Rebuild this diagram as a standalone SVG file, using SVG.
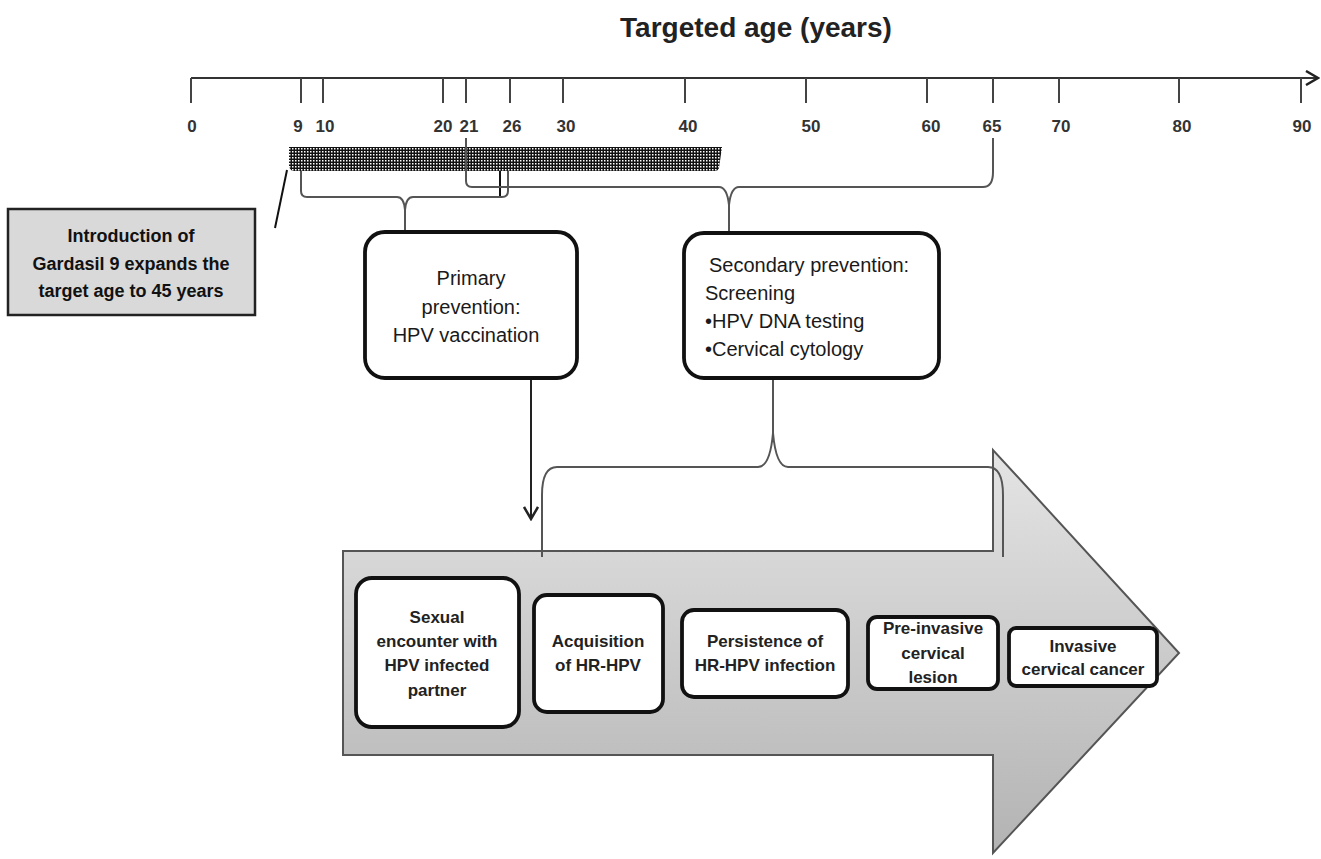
<svg xmlns="http://www.w3.org/2000/svg" width="1321" height="859" viewBox="0 0 1321 859">
<defs>
<style>
.axis{stroke:#333;stroke-width:2;fill:none}
.tick{stroke:#444;stroke-width:2}
.lbl{font-family:"Liberation Sans",Arial,sans-serif;font-size:17px;font-weight:bold;fill:#333;text-anchor:middle}
.brace{stroke:#555;stroke-width:2;fill:none}
.box{fill:#fff;stroke:#111;stroke-width:3.8}
.t20{font-family:"Liberation Sans",Arial,sans-serif;font-size:20px;fill:#1a1a1a}
.tb{font-family:"Liberation Sans",Arial,sans-serif;font-size:17px;font-weight:bold;fill:#222;text-anchor:middle}
.tg{font-family:"Liberation Sans",Arial,sans-serif;font-size:18px;font-weight:bold;fill:#111;text-anchor:middle}
.mid{text-anchor:middle}
</style>
<pattern id="dots" x="0" y="0" width="3" height="3" patternUnits="userSpaceOnUse"><rect width="3" height="3" fill="#111"/><rect x="1" y="1" width="1.5" height="1.5" fill="#fff"/></pattern>
<linearGradient id="ag" x1="0" y1="450" x2="0" y2="853" gradientUnits="userSpaceOnUse"><stop offset="0" stop-color="#e4e4e4"/><stop offset="1" stop-color="#b3b3b3"/></linearGradient>
<marker id="chev" viewBox="0 0 16 16" refX="14" refY="8" markerWidth="16" markerHeight="16" markerUnits="userSpaceOnUse" orient="auto"><path d="M2,1 L14,8 L2,15" fill="none" stroke="#222" stroke-width="2.5"/></marker>
</defs>
<rect width="1321" height="859" fill="#fff"/>

<g id="title"><text x="756" y="37" font-family="Liberation Sans,Arial,sans-serif" font-size="28" font-weight="bold" fill="#222" text-anchor="middle">Targeted age (years)</text></g>

<g id="axis">
<path class="axis" d="M191,78 H1318" marker-end="url(#chev)"/>
<path class="tick" d="M191,78V103 M301,78V103 M323,78V103 M443,78V103 M466,78V103 M510,78V103 M563,78V103 M685,78V103 M806,78V103 M927,78V103 M993,78V103 M1059,78V103 M1179,78V103 M1301,78V103"/>
<text class="lbl" x="192" y="132">0</text>
<text class="lbl" x="298" y="132">9</text>
<text class="lbl" x="325" y="132">10</text>
<text class="lbl" x="443" y="132">20</text>
<text class="lbl" x="469" y="132">21</text>
<text class="lbl" x="512" y="132">26</text>
<text class="lbl" x="566" y="132">30</text>
<text class="lbl" x="688" y="132">40</text>
<text class="lbl" x="811" y="132">50</text>
<text class="lbl" x="931" y="132">60</text>
<text class="lbl" x="992" y="132">65</text>
<text class="lbl" x="1061" y="132">70</text>
<text class="lbl" x="1182" y="132">80</text>
<text class="lbl" x="1302" y="132">90</text>
</g>

<g id="gardasil-bar"><path d="M289,147 H722 L719,168 Q718,171 715,171 H294 Q290,171 289,166 Z" fill="url(#dots)"/></g>

<g id="gardasil-note">
<rect x="8" y="209" width="247" height="106" fill="#d9d9d9" stroke="#222" stroke-width="2.5"/>
<text class="tg" x="131" y="242">Introduction of</text>
<text class="tg" x="131" y="270">Gardasil 9 expands the</text>
<text class="tg" x="131" y="297">target age to 45 years</text>
</g>

<g id="big-arrow"><path d="M343,551 H993 V450 L1179,653 L993,853 V755 H343 Z" fill="url(#ag)" stroke="#555" stroke-width="2"/></g>

<g id="connectors">
<path d="M287,170 L275,228" stroke="#111" stroke-width="2"/>
<path d="M500,171 V196" stroke="#111" stroke-width="2"/>
<path class="brace" d="M301,171 V191 Q301,197 307,197 H397 Q404,197 405,210 Q406,197 413,197 H502 Q508,197 508,191 V171 M405,208 V232"/>
<path class="brace" d="M466,138 V181 Q466,187 472,187 H719 Q727,187 729,205 Q731,187 739,187 H983 Q993,187 993,172 V138 M729,203 V233"/>
<path class="brace" d="M542,557 V495 Q542,467 557,467 H758 Q770,467 773,433 Q776,467 788,467 H988 Q1003,467 1003,495 V557 M773,378 V435"/>
<path d="M531,378 V519" stroke="#222" stroke-width="2" marker-end="url(#chev)"/>
</g>

<g id="primary">
<rect class="box" x="365" y="232" width="212" height="146" rx="20"/>
<text class="t20 mid" x="471" y="285">Primary</text>
<text class="t20 mid" x="471" y="314">prevention:</text>
<text class="t20 mid" x="466" y="342">HPV vaccination</text>
</g>

<g id="secondary">
<rect class="box" x="684" y="233" width="255" height="145" rx="20"/>
<text class="t20" x="709" y="272">Secondary prevention:</text>
<text class="t20" x="705" y="300">Screening</text>
<text class="t20" x="705" y="328">•HPV DNA testing</text>
<text class="t20" x="705" y="356">•Cervical cytology</text>
</g>

<g id="sexual">
<rect class="box" x="356" y="578" width="163" height="149" rx="16"/>
<text class="tb" x="437" y="623">Sexual</text>
<text class="tb" x="437" y="647">encounter with</text>
<text class="tb" x="437" y="671">HPV infected</text>
<text class="tb" x="437" y="696">partner</text>
</g>

<g id="acquisition">
<rect class="box" x="534" y="595" width="129" height="117" rx="13"/>
<text class="tb" x="598" y="647">Acquisition</text>
<text class="tb" x="598" y="671">of HR-HPV</text>
</g>

<g id="persistence">
<rect class="box" x="682" y="610" width="166" height="87" rx="12"/>
<text class="tb" x="765" y="647">Persistence of</text>
<text class="tb" x="765" y="671">HR-HPV infection</text>
</g>

<g id="preinvasive">
<rect class="box" x="868" y="617" width="130" height="72" rx="9"/>
<text class="tb" x="933" y="634">Pre-invasive</text>
<text class="tb" x="933" y="659">cervical</text>
<text class="tb" x="933" y="683">lesion</text>
</g>

<g id="invasive">
<rect class="box" x="1009" y="628" width="148" height="58" rx="7"/>
<text class="tb" x="1083" y="652">Invasive</text>
<text class="tb" x="1083" y="675">cervical cancer</text>
</g>
</svg>
